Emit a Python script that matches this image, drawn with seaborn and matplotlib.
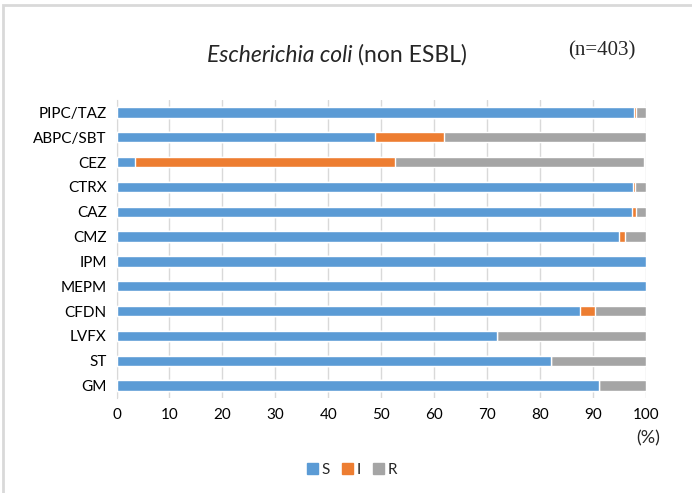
import pandas as pd
import numpy as np
import matplotlib
matplotlib.use("Agg")
import matplotlib.pyplot as plt
import seaborn as sns
from matplotlib.patches import Patch, Rectangle

drugs = ['PIPC/TAZ', 'ABPC/SBT', 'CEZ', 'CTRX', 'CAZ', 'CMZ',
         'IPM', 'MEPM', 'CFDN', 'LVFX', 'ST', 'GM']
s_pct = [97.8, 48.9, 3.5, 97.6, 97.3, 94.9, 100.0, 100.0, 87.5, 71.8, 82.0, 91.1]
i_pct = [0.3, 12.9, 49.1, 0.4, 0.8, 1.2, 0.0, 0.0, 2.9, 0.0, 0.0, 0.0]
r_pct = [1.9, 38.2, 47.0, 2.0, 1.9, 3.9, 0.0, 0.0, 9.6, 28.2, 18.0, 8.9]

colors = {'S': '#5b9bd5', 'I': '#ed7d31', 'R': '#a5a5a5'}

df = pd.DataFrame({'drug': drugs, 'S': s_pct, 'I': i_pct, 'R': r_pct})
df['SI'] = df['S'] + df['I']
df['SIR'] = df['SI'] + df['R']

sns.set_style('white')
plt.rcParams['font.family'] = ['Lato', 'DejaVu Sans']

fig = plt.figure(figsize=(6.92, 4.93), dpi=100)
ax = fig.add_axes([116.5 / 692, 1 - 398 / 493, (646 - 116.5) / 692, 298 / 493])

# stacked bars drawn as cumulative totals, back to front
sns.barplot(data=df, y='drug', x='SIR', color=colors['R'], orient='h',
            width=0.42, saturation=1, ax=ax, zorder=3)
sns.barplot(data=df, y='drug', x='SI', color=colors['I'], orient='h',
            width=0.42, saturation=1, ax=ax, zorder=3)
sns.barplot(data=df, y='drug', x='S', color=colors['S'], orient='h',
            width=0.42, saturation=1, ax=ax, zorder=3)

ax.set_xlim(0, 100)
ax.set_ylim(11.5, -0.5)
ax.set_xticks(range(0, 101, 10))
ax.set_xlabel('')
ax.set_ylabel('')
ax.grid(axis='x', color='#d9d9d9', linewidth=1, zorder=0)
for side in ['top', 'right', 'bottom']:
    ax.spines[side].set_visible(False)
ax.spines['left'].set_color('#d9d9d9')
ax.tick_params(axis='both', length=0, labelsize=11, colors='#000000')
ax.tick_params(axis='x', pad=7)
ax.tick_params(axis='y', pad=7)

fig.text(648 / 692, 1 - 438 / 493, '(%)', ha='center', va='center', fontsize=13)

# title: italic species name followed by upright text
t1 = fig.text(207 / 692, 1 - 55 / 493, 'Escherichia coli', ha='left', va='center',
              fontsize=16.5, style='italic')
fig.canvas.draw()
bb = t1.get_window_extent(renderer=fig.canvas.get_renderer())
fig.text((bb.x1 + 6) / 692, 1 - 55 / 493, '(non ESBL)', ha='left', va='center',
         fontsize=16.5)
fig.text(602 / 692, 1 - 51 / 493, '(n=403)', ha='center', va='center', fontsize=15,
         family=['Liberation Serif', 'DejaVu Serif'])

handles = [Patch(color=colors[k], label=k) for k in ['S', 'I', 'R']]
fig.legend(handles=handles, loc='center', bbox_to_anchor=(352 / 692, 1 - 470 / 493),
           ncol=3, frameon=False, fontsize=11, handlelength=0.75, handleheight=0.75,
           handletextpad=0.25, columnspacing=0.75)

# outer chart-area border
fig.patches.append(Rectangle((3 / 692, -0.01), 1.0, 1 - 5 / 493 + 0.01,
                             transform=fig.transFigure, fill=False,
                             edgecolor='#d9d9d9', linewidth=2))

fig.savefig('out.png', dpi=100)
